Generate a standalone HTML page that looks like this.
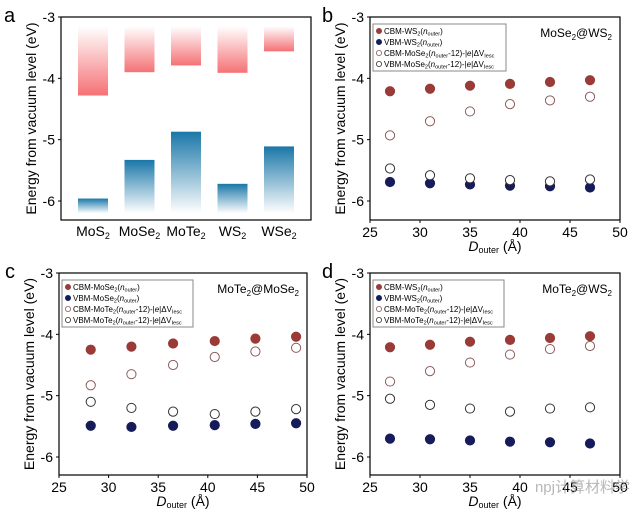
<!DOCTYPE html>
<html><head><meta charset="utf-8">
<style>
html,body{margin:0;padding:0;background:#fff;}
svg{display:block;font-family:"Liberation Sans",Arial,sans-serif;}
</style></head>
<body>
<svg id="fig" width="637" height="516" viewBox="0 0 637 516" xmlns="http://www.w3.org/2000/svg">
<defs>
<linearGradient id="gc" x1="0" y1="0" x2="0" y2="1"><stop offset="0" stop-color="#f46a6e" stop-opacity="0"/><stop offset="1" stop-color="#f46a6e" stop-opacity="0.95"/></linearGradient>
<linearGradient id="gv" x1="0" y1="0" x2="0" y2="1"><stop offset="0" stop-color="#1a77a8" stop-opacity="1"/><stop offset="1" stop-color="#1a77a8" stop-opacity="0"/></linearGradient>
</defs>
</svg>
<script>
// Panel a data
const aCats = ["MoS", "MoSe", "MoTe", "WS", "WSe"];
const aCBM = [-4.28, -3.90, -3.79, -3.91, -3.56];
const aVBM = [-5.96, -5.33, -4.87, -5.72, -5.11];
const yTicks = [-3, -4, -5, -6];
const xTicks = [25, 30, 35, 40, 45, 50];
// Panel b
const bX = [27, 31, 35, 39, 43, 47];
const bCBM = [-4.21, -4.17, -4.12, -4.09, -4.06, -4.03];
const bVBM = [-5.69, -5.71, -5.73, -5.75, -5.76, -5.78];
const bCBMo = [-4.93, -4.70, -4.54, -4.42, -4.36, -4.30];
const bVBMo = [-5.47, -5.58, -5.63, -5.66, -5.68, -5.65];
// Panel c
const cX = [28.2, 32.3, 36.5, 40.7, 44.8, 48.9];
const cCBM = [-4.25, -4.20, -4.15, -4.11, -4.07, -4.04];
const cVBM = [-5.49, -5.51, -5.49, -5.48, -5.46, -5.45];
const cCBMo = [-4.83, -4.65, -4.50, -4.37, -4.28, -4.22];
const cVBMo = [-5.10, -5.20, -5.26, -5.30, -5.26, -5.22];
// Panel d
const dX = [27, 31, 35, 39, 43, 47];
const dCBM = [-4.21, -4.17, -4.12, -4.09, -4.06, -4.03];
const dVBM = [-5.70, -5.71, -5.73, -5.75, -5.76, -5.78];
const dCBMo = [-4.77, -4.60, -4.46, -4.33, -4.24, -4.19];
const dVBMo = [-5.05, -5.15, -5.21, -5.26, -5.21, -5.19];

const NS = "http://www.w3.org/2000/svg";
const svg = document.getElementById('fig');
function mk(tag, attrs, parent, txt){
  const e = document.createElementNS(NS, tag);
  for (const k in attrs) e.setAttribute(k, attrs[k]);
  if (txt !== undefined) e.innerHTML = txt;
  (parent || svg).appendChild(e);
  return e;
}
function frame(g, L, R, T, B, ysc, name){
  const f = mk('rect', {x:L, y:T, width:R-L, height:B-T, fill:'none', stroke:'#000', 'stroke-width':1.2}, g);
  
  
  yTicks.forEach(v => {
    const y = ysc(v);
    mk('line', {x1:L-3, x2:L, y1:y, y2:y, stroke:'#000'}, g);
    const t = mk('text', {x:L-6, y:y+5, 'text-anchor':'end', 'font-size':14}, g, String(v));
    
    
  });
  const yl = mk('text', {transform:`translate(${L-25},${(T+B)/2}) rotate(-90)`, 'text-anchor':'middle', 'font-size':14}, g, 'Energy from vacuum level (eV)');
  
  
}
function mkY(T, yTop, ySix){ const s=(ySix-yTop)/3; return v => yTop + (-3 - v)*s; }

// Panel a
(function(){
  const g = mk('g', {});  
  const L=61, R=311, T=17, B=220; const ysc = mkY(T, 17, 201);
  const lab = mk('text', {x:4, y:22, 'font-size':20}, g, 'a');
   
  const step = 46.5, x0 = L + 32, w = 30;
  aCats.forEach((c, i) => {
    const cx = x0 + i*step;
    const rc = mk('rect', {x:cx-w/2, y:ysc(-3.15), width:w, height:ysc(aCBM[i])-ysc(-3.15), fill:'url(#gc)'}, g);
     
    const rv = mk('rect', {x:cx-w/2, y:ysc(aVBM[i]), width:w, height:ysc(-6.2)-ysc(aVBM[i]), fill:'url(#gv)'}, g);
     
    const t = mk('text', {x:cx, y:236, 'text-anchor':'middle', 'font-size':14}, g, c + '<tspan font-size="9" dy="3">2</tspan>');
     
  });
  frame(g, L, R, T, B, ysc, 'panel-a');
})();

function scatter(opt){
  const g = mk('g', {});  
  const {L,R,T,B,ySix} = opt; const ysc = mkY(T, T, ySix);
  const xsc = v => L + (v-25)/25*(R-L);
  const lab = mk('text', {x:opt.lx, y:T+5, 'font-size':20}, g, opt.id);
   
  frame(g, L, R, T, B, ysc, 'panel-' + opt.id);
  xTicks.forEach(v => {
    const x = xsc(v);
    mk('line', {x1:x, x2:x, y1:B, y2:B+3, stroke:'#000'}, g);
    const t = mk('text', {x:x, y:B+17, 'text-anchor':'middle', 'font-size':14}, g, String(v));
     
  });
  const xt = mk('text', {x:(L+R)/2, y:B+31, 'text-anchor':'middle', 'font-size':14}, g, '<tspan font-style="italic">D</tspan><tspan font-size="9" dy="2">outer</tspan><tspan dy="-2"> (Å)</tspan>');
   
  const series = [
    {d:opt.cbm, fill:'#9a3b37', stroke:'#9a3b37', n:'cbm-filled'},
    {d:opt.vbm, fill:'#161c5a', stroke:'#161c5a', n:'vbm-filled'},
    {d:opt.cbmo, fill:'#fff', stroke:'#8c5c5c', n:'cbm-open'},
    {d:opt.vbmo, fill:'#fff', stroke:'#333', n:'vbm-open'}
  ];
  series.forEach(s => {
    s.d.forEach((v, i) => {
      const c = mk('circle', {cx:xsc(opt.x[i]), cy:ysc(v), r:4.6, fill:s.fill, stroke:s.stroke, 'stroke-width':1}, g);
       
    });
  });
  const lx = L+3, ly = T+7, lw = opt.lw, lh = 47;
  const lg = mk('g', {}, g);  
  mk('rect', {x:lx, y:ly, width:lw, height:lh, fill:'#fff', stroke:'#888', 'stroke-width':1}, lg);
  const sub = s => `<tspan font-size="5.5" dy="1.5">${s}</tspan><tspan dy="-1.5">`;
  const entries = [
    `CBM-${opt.outer}${sub('2')}(<tspan font-style="italic">n</tspan>${sub('outer')})</tspan>`,
    `VBM-${opt.outer}${sub('2')}(<tspan font-style="italic">n</tspan>${sub('outer')})</tspan>`,
    `CBM-${opt.inner}${sub('2')}(<tspan font-style="italic">n</tspan>${sub('outer')}-12)-|<tspan font-style="italic">e</tspan>|ΔV${sub('Iesc')}</tspan></tspan>`,
    `VBM-${opt.inner}${sub('2')}(<tspan font-style="italic">n</tspan>${sub('outer')}-12)-|<tspan font-style="italic">e</tspan>|ΔV${sub('Iesc')}</tspan></tspan>`
  ];
  entries.forEach((e, i) => {
    const yy = ly + 7 + i*11;
    const s = series[i];
    const le = mk('g', {}, lg);  
    mk('circle', {cx:lx+6, cy:yy, r:2.6, fill:s.fill, stroke:s.stroke, 'stroke-width':0.8}, le);
    mk('text', {x:lx+11, y:yy+3, 'font-size':8}, le, e);
  });
  const tt = mk('text', {x:R-8, y:T+20, 'text-anchor':'end', 'font-size':12}, g, opt.title);
   
}
scatter({id:'b', L:370, R:620, T:17, B:220, ySix:201, lx:322, x:bX, cbm:bCBM, vbm:bVBM, cbmo:bCBMo, vbmo:bVBMo, outer:'WS', inner:'MoSe', lw:133, title:'MoSe<tspan font-size="8" dy="3">2</tspan><tspan dy="-3">@WS</tspan><tspan font-size="8" dy="3">2</tspan>'});
scatter({id:'c', L:59, R:307, T:273, B:475, ySix:457, lx:5, x:cX, cbm:cCBM, vbm:cVBM, cbmo:cCBMo, vbmo:cVBMo, outer:'MoSe', inner:'MoTe', lw:131, title:'MoTe<tspan font-size="8" dy="3">2</tspan><tspan dy="-3">@MoSe</tspan><tspan font-size="8" dy="3">2</tspan>'});
scatter({id:'d', L:370, R:620, T:273, B:475, ySix:457, lx:322, x:dX, cbm:dCBM, vbm:dVBM, cbmo:dCBMo, vbmo:dVBMo, outer:'WS', inner:'MoTe', lw:131, title:'MoTe<tspan font-size="8" dy="3">2</tspan><tspan dy="-3">@WS</tspan><tspan font-size="8" dy="3">2</tspan>'});
const wm = mk('text', {x:630, y:492, 'text-anchor':'end', 'font-size':15, fill:'#999', 'fill-opacity':0.7}, svg, 'npj计算材料学');


</script>
</body></html>
